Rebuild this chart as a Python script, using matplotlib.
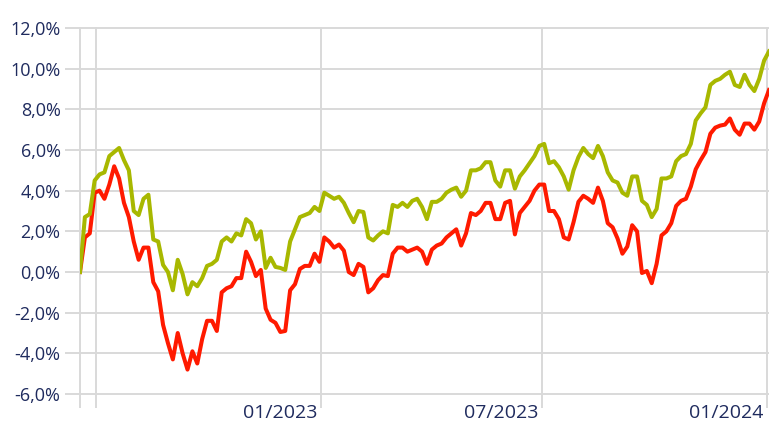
import numpy as np
import pandas as pd
import matplotlib
matplotlib.use("Agg")
import matplotlib.pyplot as plt
import matplotlib.transforms as mtransforms
from matplotlib.ticker import FuncFormatter

# performance since mid June 2022, in %, one reading every 4 days
start_date = "2022-06-18"
step = "4D"

green = [0.0, 2.7, 2.85, 4.5, 4.8, 4.9, 5.7, 5.9, 6.1, 5.5,
         5.0, 3.0, 2.8, 3.6, 3.8, 1.6, 1.5, 0.35, 0.0, -0.9,
         0.6, -0.1, -1.1, -0.5, -0.7, -0.3, 0.3, 0.4, 0.6, 1.5,
         1.7, 1.5, 1.9, 1.8, 2.6, 2.4, 1.6, 2.0, 0.2, 0.7,
         0.25, 0.2, 0.1, 1.5, 2.1, 2.7, 2.8, 2.9, 3.2, 3.0,
         3.9, 3.75, 3.6, 3.7, 3.4, 2.9, 2.45, 3.0, 2.95, 1.7,
         1.55, 1.8, 2.0, 1.9, 3.3, 3.2, 3.4, 3.2, 3.5, 3.6,
         3.2, 2.6, 3.45, 3.45, 3.6, 3.9, 4.05, 4.15, 3.7, 4.0,
         5.0, 5.0, 5.1, 5.4, 5.4, 4.5, 4.2, 5.0, 5.0, 4.1,
         4.7, 5.0, 5.35, 5.7, 6.2, 6.3, 5.35, 5.45, 5.15, 4.7,
         4.05, 5.0, 5.65, 6.1, 5.8, 5.6, 6.2, 5.7, 4.9, 4.5,
         4.4, 3.9, 3.75, 4.7, 4.7, 3.5, 3.3, 2.7, 3.1, 4.6,
         4.6, 4.7, 5.45, 5.7, 5.8, 6.3, 7.45, 7.8, 8.1, 9.2,
         9.4, 9.5, 9.7, 9.85, 9.2, 9.1, 9.7, 9.2, 8.9, 9.5,
         10.4, 10.85]

red = [0.0, 1.7, 1.9, 3.9, 4.0, 3.6, 4.3, 5.2, 4.6, 3.4,
       2.7, 1.5, 0.6, 1.2, 1.2, -0.5, -0.95, -2.6, -3.5, -4.3,
       -3.0, -4.0, -4.8, -3.9, -4.5, -3.3, -2.4, -2.4, -2.9, -1.0,
       -0.8, -0.7, -0.3, -0.3, 1.0, 0.5, -0.2, 0.1, -1.8, -2.35,
       -2.5, -2.95, -2.9, -0.9, -0.6, 0.15, 0.3, 0.3, 0.9, 0.5,
       1.7, 1.5, 1.2, 1.35, 1.05, 0.0, -0.15, 0.4, 0.25, -1.0,
       -0.8, -0.4, -0.15, -0.2, 0.9, 1.2, 1.2, 1.0, 1.1, 1.2,
       1.0, 0.4, 1.1, 1.3, 1.4, 1.7, 1.9, 2.1, 1.3, 1.9,
       2.9, 2.8, 3.0, 3.4, 3.4, 2.6, 2.6, 3.4, 3.5, 1.85,
       2.9, 3.2, 3.5, 4.0, 4.3, 4.3, 3.0, 3.0, 2.6, 1.7,
       1.6, 2.45, 3.45, 3.75, 3.6, 3.4, 4.15, 3.5, 2.4, 2.2,
       1.65, 0.9, 1.25, 2.3, 2.0, -0.05, 0.05, -0.55, 0.4, 1.8,
       2.0, 2.4, 3.25, 3.5, 3.6, 4.2, 5.05, 5.5, 5.9, 6.8,
       7.1, 7.2, 7.25, 7.55, 7.0, 6.75, 7.3, 7.3, 7.0, 7.4,
       8.3, 8.95]

tick_dates = ["2022-07-01", "2023-01-01", "2023-07-01", "2024-01-01"]
tick_labels = ["", "01/2023", "07/2023", "01/2024"]
y_ticks = [-6, -4, -2, 0, 2, 4, 6, 8, 10, 12]

dates = pd.date_range(start_date, periods=len(green), freq=step)

grid_col = "#d9d9d9"
text_col = "#1f2b5e"
plt.rcParams["font.family"] = ["Open Sans", "DejaVu Sans"]

fig = plt.figure(figsize=(7.69, 4.24), dpi=100)
ax = fig.add_axes([80 / 769, 30 / 424, 689 / 769, 366 / 424])

ax.plot(dates, red, color="#ff1a00", lw=2.9, solid_joinstyle="round", zorder=3)
ax.plot(dates, green, color="#a8b800", lw=2.9, solid_joinstyle="round", zorder=4)

ax.set_xlim(dates[0], dates[-1])
ax.set_ylim(-6, 12)

xt = [dates[0]] + list(pd.to_datetime(tick_dates))
ax.set_xticks(xt)
ax.set_xticklabels([""] + tick_labels)
ax.set_yticks(y_ticks)
ax.yaxis.set_major_formatter(FuncFormatter(lambda v, p: f"{v:.1f}%".replace(".", ",")))

for s in ax.spines.values():
    s.set_visible(False)
ax.grid(True, color=grid_col, lw=1.4, zorder=0)
for gl in ax.get_xgridlines() + ax.get_ygridlines():
    gl.set_clip_on(False)

ax.tick_params(axis="y", length=11, width=1.4, color=grid_col, pad=3,
               labelsize=13, labelcolor=text_col)
ax.tick_params(axis="x", length=10, width=1.4, color=grid_col, pad=-2.5,
               labelsize=14, labelcolor=text_col)

shift = mtransforms.ScaledTranslation(-3 / 100, 0, fig.dpi_scale_trans)
for lab in ax.get_xticklabels():
    lab.set_horizontalalignment("right")
    lab.set_transform(lab.get_transform() + shift)

fig.savefig("out.png", dpi=100)
